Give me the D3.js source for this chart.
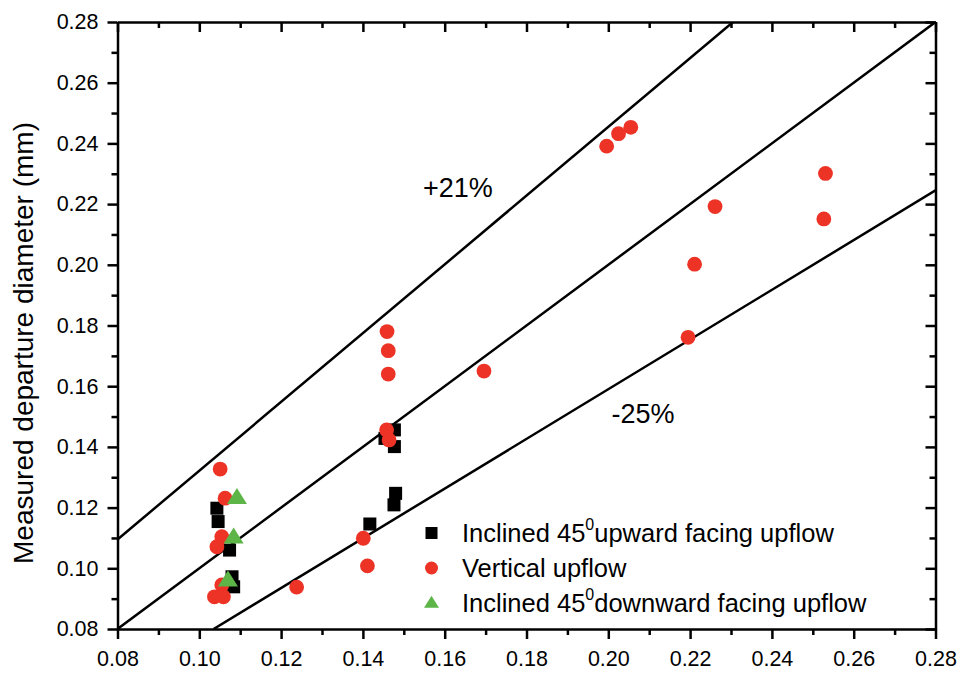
<!DOCTYPE html>
<html><head><meta charset="utf-8">
<script src="https://cdn.jsdelivr.net/npm/d3@7"></script>
<style>
html,body{margin:0;padding:0;background:#fff;}
svg{display:block;font-family:"Liberation Sans",Arial,sans-serif;}
</style></head>
<body><svg id="c" width="960" height="673"></svg>
<script>
// ---- data ----
const upwardX = [0.1043, 0.1046, 0.1074, 0.1080, 0.1084, 0.1417, 0.1476, 0.1480, 0.1454, 0.1477, 0.1477];
const upwardY = [0.1198, 0.1154, 0.1060, 0.0972, 0.0939, 0.1146, 0.1209, 0.1247, 0.1428, 0.1456, 0.1401];

const verticalX = [0.1051, 0.1063, 0.1055, 0.1043, 0.1055, 0.1037, 0.1059, 0.1238, 0.1401, 0.1411,
                   0.1459, 0.1462, 0.1462, 0.1458, 0.1464, 0.1696, 0.1996, 0.2025, 0.2055, 0.2195,
                   0.2211, 0.2261, 0.2527, 0.2531];
const verticalY = [0.1327, 0.1231, 0.1104, 0.1071, 0.0945, 0.0906, 0.0906, 0.0938, 0.1099, 0.1008,
                   0.1780, 0.1717, 0.1640, 0.1456, 0.1423, 0.1650, 0.2391, 0.2432, 0.2453, 0.1761,
                   0.2002, 0.2192, 0.2151, 0.2301];

const downwardX = [0.1092, 0.1084, 0.1070];
const downwardY = [0.1233, 0.1103, 0.0961];

// reference lines (endpoints in data units)
const lineCenter = [[0.08, 0.08], [0.28, 0.28]];
const lineUpper  = [[0.08, 0.1095], [0.2305, 0.28]];
const lineLower  = [[0.1035, 0.08], [0.28, 0.2245]];

const xMajorTicks = [0.08, 0.10, 0.12, 0.14, 0.16, 0.18, 0.20, 0.22, 0.24, 0.26, 0.28];
const yMajorTicks = [0.08, 0.10, 0.12, 0.14, 0.16, 0.18, 0.20, 0.22, 0.24, 0.26, 0.28];
const minorTicks  = [0.09, 0.11, 0.13, 0.15, 0.17, 0.19, 0.21, 0.23, 0.25, 0.27];

const yTitle = "Measured departure diameter (mm)";
const legendLabels = [
  ["Inclined 45", "0", "upward facing upflow"],
  ["Vertical upflow", "", ""],
  ["Inclined 45", "0", "downward facing upflow"]
];
const annotations = [["+21%", 0.1547, 0.2223], ["-25%", 0.2008, 0.1479]];

// ---- drawing ----
const svg = d3.select("#c");
const x = d3.scaleLinear().domain([0.08, 0.28]).range([117.5, 935.5]);
const y = d3.scaleLinear().domain([0.08, 0.28]).range([629, 22]);
const fmt = d3.format(".2f");
const AX = 2.5;
const TICKFS = 21.5;

function styleAxis(g){
  g.attr("font-size",TICKFS).attr("font-family",'"Liberation Sans",Arial,sans-serif');
  g.selectAll("path.domain").attr("stroke","#000").attr("stroke-width",AX);
  g.selectAll(".tick line").attr("stroke","#000").attr("stroke-width",AX);
  g.selectAll(".tick text").attr("fill","#000").attr("font-size",TICKFS);
}

// clip
svg.append("defs").append("clipPath").attr("id","pc").append("rect")
  .attr("x",x(0.08)).attr("y",y(0.28)).attr("width",x(0.28)-x(0.08)).attr("height",y(0.08)-y(0.28));

// reference lines
const line = d3.line().x(d=>x(d[0])).y(d=>y(d[1]));
[lineUpper, lineCenter, lineLower].forEach(l=>{
  svg.append("path").attr("d",line(l)).attr("fill","none").attr("stroke","#000")
    .attr("stroke-width",2.5).attr("clip-path","url(#pc)");
});

// axes: bottom
const gB = svg.append("g").attr("transform",`translate(0,${y(0.08)})`)
  .call(d3.axisBottom(x).tickValues(xMajorTicks).tickFormat(fmt).tickSize(10).tickSizeOuter(0).tickPadding(12));
styleAxis(gB);
svg.append("g").attr("transform",`translate(0,${y(0.08)})`)
  .call(d3.axisBottom(x).tickValues(minorTicks).tickFormat("").tickSize(6).tickSizeOuter(0))
  .call(g=>{g.select("path.domain").remove(); styleAxis(g);});
// left
const gL = svg.append("g").attr("transform",`translate(${x(0.08)},0)`)
  .call(d3.axisLeft(y).tickValues(yMajorTicks).tickFormat(fmt).tickSize(10).tickSizeOuter(0).tickPadding(9));
styleAxis(gL);
svg.append("g").attr("transform",`translate(${x(0.08)},0)`)
  .call(d3.axisLeft(y).tickValues(minorTicks).tickFormat("").tickSize(6).tickSizeOuter(0))
  .call(g=>{g.select("path.domain").remove(); styleAxis(g);});
// top (inward ticks)
const gT = svg.append("g").attr("transform",`translate(0,${y(0.28)})`)
  .call(d3.axisBottom(x).tickValues(xMajorTicks).tickFormat("").tickSize(10).tickSizeOuter(0));
styleAxis(gT);
svg.append("g").attr("transform",`translate(0,${y(0.28)})`)
  .call(d3.axisBottom(x).tickValues(minorTicks).tickFormat("").tickSize(6).tickSizeOuter(0))
  .call(g=>{g.select("path.domain").remove(); styleAxis(g);});
// right (inward ticks)
const gR = svg.append("g").attr("transform",`translate(${x(0.28)},0)`)
  .call(d3.axisLeft(y).tickValues(yMajorTicks).tickFormat("").tickSize(10).tickSizeOuter(0));
styleAxis(gR);
svg.append("g").attr("transform",`translate(${x(0.28)},0)`)
  .call(d3.axisLeft(y).tickValues(minorTicks).tickFormat("").tickSize(6).tickSizeOuter(0))
  .call(g=>{g.select("path.domain").remove(); styleAxis(g);});

// y title
svg.append("text").attr("transform",`translate(33,343) rotate(-90)`)
  .attr("text-anchor","middle").attr("font-size",28).attr("fill","#000").text(yTitle);

// markers
const RED = "#ec3326", GREEN = "#5db548";
svg.append("g").selectAll("rect").data(d3.range(upwardX.length)).join("rect")
  .attr("x",i=>x(upwardX[i])-6.5).attr("y",i=>y(upwardY[i])-6.5)
  .attr("width",13).attr("height",13).attr("fill","#000");
svg.append("g").selectAll("circle").data(d3.range(verticalX.length)).join("circle")
  .attr("cx",i=>x(verticalX[i])).attr("cy",i=>y(verticalY[i])).attr("r",7.4).attr("fill",RED);
const tri = (cx,cy,w,h)=>`M${cx},${cy-h*0.6}L${cx+w/2},${cy+h*0.4}L${cx-w/2},${cy+h*0.4}Z`;
svg.append("g").selectAll("path").data(d3.range(downwardX.length)).join("path")
  .attr("d",i=>tri(x(downwardX[i]),y(downwardY[i]),20,16)).attr("fill",GREEN);

// annotations
annotations.forEach(a=>{
  svg.append("text").attr("x",x(a[1])).attr("y",y(a[2])).attr("font-size",27)
    .attr("fill","#000").text(a[0]);
});

// legend
const lg = svg.append("g");
const rowsY = [533, 568, 603];
const symX = 431.5, txtX = 462;
lg.append("rect").attr("x",symX-6).attr("y",rowsY[0]-6).attr("width",12).attr("height",12).attr("fill","#000");
lg.append("circle").attr("cx",symX).attr("cy",rowsY[1]).attr("r",6.5).attr("fill",RED);
lg.append("path").attr("d",tri(symX,rowsY[2],15,12)).attr("fill",GREEN);
legendLabels.forEach((l,i)=>{
  const t = lg.append("text").attr("x",txtX).attr("y",rowsY[i]+9).attr("font-size",25.5)
    .attr("fill","#000");
  t.append("tspan").text(l[0]);
  if(l[1]){
    t.append("tspan").attr("dy",-12).attr("font-size",16).text(l[1]);
    t.append("tspan").attr("dy",12).text(l[2]);
  }
});
</script></body></html>
